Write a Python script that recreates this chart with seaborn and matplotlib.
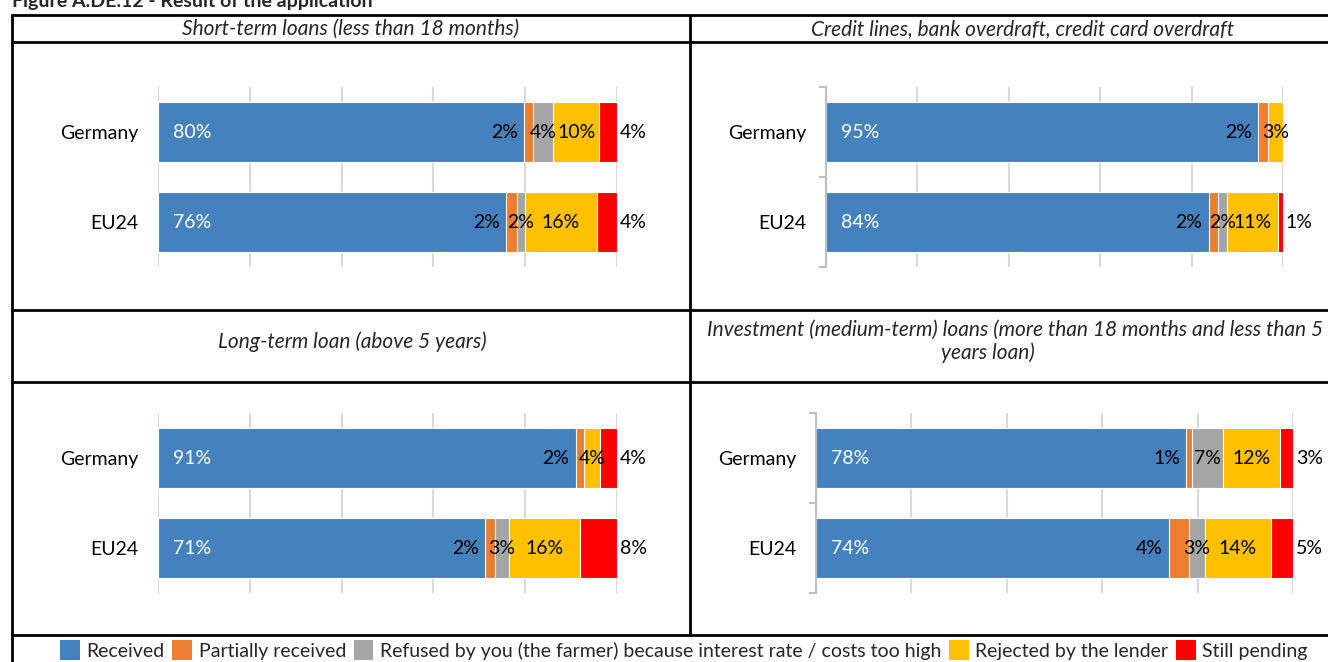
import matplotlib.pyplot as plt
import seaborn as sns
import pandas as pd
from matplotlib.patches import Patch
from matplotlib.lines import Line2D

sns.set_style("white")
plt.rcParams["font.family"] = ["Lato", "DejaVu Sans"]

# data (shares in %)
categories = ["Germany", "EU24"]
series_names = [
    "Received",
    "Partially received",
    "Refused by you (the farmer) because interest rate / costs too high",
    "Rejected by the lender",
    "Still pending",
]
colors = ["#4581BD", "#ED7D31", "#A5A5A5", "#FFC000", "#FF0000"]

short_term = [[79.7, 2.0, 4.4, 10.0, 3.9], [75.8, 2.4, 1.7, 15.7, 4.4]]
credit_lines = [[94.6, 2.2, 0.0, 3.2, 0.0], [83.7, 2.1, 2.0, 11.2, 1.0]]
long_term = [[91.0, 1.8, 0.0, 3.6, 3.6], [71.2, 2.3, 2.9, 15.6, 8.0]]
investment = [[77.6, 1.2, 6.6, 11.9, 2.7], [74.0, 4.2, 3.3, 13.9, 4.6]]

W, H = 1328, 662
fig = plt.figure(figsize=(W / 100, H / 100), dpi=100)


def box(x0, x1, y0, y1):
    return [x0 / W, 1 - y1 / H, (x1 - x0) / W, (y1 - y0) / H]


def draw_panel(ax, values, bracket):
    df = pd.DataFrame(values, index=categories, columns=series_names)
    cum = df.cumsum(axis=1)
    # stacked bars: draw cumulative totals, longest first
    for name, color in reversed(list(zip(series_names, colors))):
        sns.barplot(x=cum[name].values, y=categories, orient="h", color=color,
                    saturation=1, width=2 / 3, edgecolor="white", linewidth=0.8,
                    errorbar=None, ax=ax)
    ax.set_xlim(0, 100)
    ax.set_ylim(1.5, -0.5)
    ax.set_xticks(range(0, 101, 20))
    ax.set_xticklabels([])
    ax.grid(axis="x", color="#D9D9D9", linewidth=1.5)
    ax.set_axisbelow(True)
    ax.set_xlabel("")
    ax.set_ylabel("")
    for s in ["top", "right", "bottom"]:
        ax.spines[s].set_visible(False)
    ax.tick_params(axis="x", length=0)
    ax.tick_params(axis="y", length=0, pad=14, labelsize=14, labelcolor="black")
    if bracket:
        ax.spines["left"].set_color("#BFBFBF")
        ax.spines["left"].set_linewidth(1.5)
        ax.set_yticks([-0.5, 0.5, 1.5], minor=True)
        ax.tick_params(axis="y", which="minor", left=True, length=5, width=1.5,
                       color="#BFBFBF", direction="out")
    else:
        ax.spines["left"].set_visible(False)

    for i, cat in enumerate(categories):
        for j, name in enumerate(series_names):
            v = df.loc[cat, name]
            if v == 0:
                continue
            start = cum.loc[cat, name] - v
            txt = f"{int(v + 0.5)}%"
            kw = dict(textcoords="offset points", va="center", fontsize=14,
                      color="black")
            if j == 0:
                ax.annotate(txt, (start, i), xytext=(11, 0), ha="left",
                            **{**kw, "color": "white"})
            elif j == 1:
                ax.annotate(txt, (start, i), xytext=(-4.5, 0), ha="right", **kw)
            elif j == 4:
                ax.annotate(txt, (start + v, i), xytext=(2, 0), ha="left", **kw)
            else:
                ax.annotate(txt, (start + v / 2, i), xytext=(0, 0), ha="center", **kw)


panels = [
    (short_term, box(158, 617, 87, 267), False),
    (credit_lines, box(826, 1283, 87, 267), True),
    (long_term, box(158, 617, 413, 593), False),
    (investment, box(816, 1293, 413, 593), True),
]
for values, rect, bracket in panels:
    ax = fig.add_axes(rect)
    draw_panel(ax, values, bracket)

# table grid
def hline(y, x0=12, x1=W):
    fig.add_artist(Line2D([x0 / W, x1 / W], [1 - y / H] * 2, color="black", lw=2))


def vline(x, y0, y1):
    fig.add_artist(Line2D([x / W] * 2, [1 - y0 / H, 1 - y1 / H], color="black", lw=2))


for y in [15, 42, 310, 382, 635]:
    hline(y)
vline(12, 15, H)
vline(690, 15, 635)

# headers
fig.text(12 / W, 1 - 7 / H, "Figure A.DE.12 - Result of the application",
         fontsize=14, fontweight="bold", ha="left", va="baseline")
hdr = dict(fontsize=15, style="italic", ha="center", va="center")
fig.text(351 / W, 1 - 29 / H, "Short-term loans (less than 18 months)", **hdr)
fig.text(1023 / W, 1 - 29 / H, "Credit lines, bank overdraft, credit card overdraft", **hdr)
fig.text(352 / W, 1 - 342 / H, "Long-term loan (above 5 years)", **hdr)
fig.text(1015 / W, 1 - 330 / H,
         "Investment (medium-term) loans (more than 18 months and less than 5", **hdr)
fig.text(988 / W, 1 - 353 / H, "years loan)", **hdr)

# legend
handles = [Patch(facecolor=c, edgecolor="none") for c in colors]
fig.legend(handles, series_names, loc="center", bbox_to_anchor=(684 / W, 1 - 650 / H),
           ncol=5, frameon=False, fontsize=14, handlelength=1.0, handleheight=1.2,
           handletextpad=0.35, columnspacing=0.4, borderpad=0)

fig.savefig("out.png", dpi=100)
